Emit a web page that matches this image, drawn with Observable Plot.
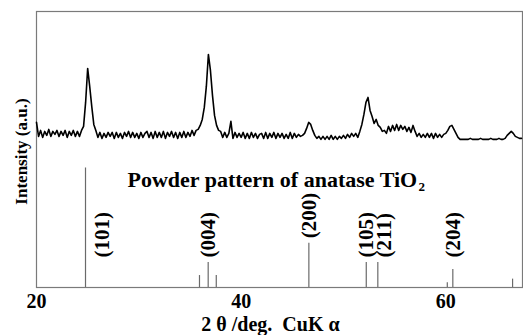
<!DOCTYPE html>
<html>
<head>
<meta charset="utf-8">
<script src="https://cdn.jsdelivr.net/npm/d3@7"></script>
<script src="https://cdn.jsdelivr.net/npm/@observablehq/plot@0.6"></script>
<style>
  html, body { margin: 0; padding: 0; background: #fff; }
  #chart { width: 523px; height: 335px; overflow: hidden; }
</style>
</head>
<body>
<div id="chart"></div>
<script>
// ---- Data ----
// Measured pattern: 2θ scan start / step (deg), intensity (a.u.)
const scanStart = 20.0;
const scanStep = 0.2;
const counts = [
  18, 4, 10, 3, 9, 5, 11, 4, 9, 6,
  10, 4, 9, 5, 10, 3, 9, 5, 10, 4,
  9, 4, 10, 14, 38, 72, 54, 34, 16, 10,
  3, 8, 2, 7, 3, 8, 4, 8, 2, 8,
  3, 7, 2, 8, 4, 9, 3, 8, 3, 7,
  2, 8, 3, 7, 9, 3, 8, 2, 9, 3,
  8, 3, 9, 2, 8, 4, 9, 3, 8, 2,
  8, 3, 9, 3, 8, 4, 10, 5, 10, 11,
  15, 21, 33, 54, 86, 70, 45, 25, 15, 10,
  9, 3, 8, 3, 7, 19, 2, 8, 3, 7,
  3, 8, 2, 7, 2, 8, 3, 7, 2, 6,
  7, 2, 8, 2, 7, 3, 8, 2, 7, 3,
  7, 2, 6, 2, 8, 2, 7, 3, 6, 4,
  5, 7, 12, 18, 16, 10, 5, 2, 4, 1,
  4, 1, 4, 1, 5, 1, 4, 1, 4, 2,
  5, 2, 6, 3, 7, 4, 7, 3, 9, 16,
  26, 38, 43, 30, 24, 17, 21, 15, 13, 9,
  10, 7, 14, 9, 15, 10, 16, 10, 15, 11,
  14, 9, 13, 8, 15, 9, 4, 7, 3, 6,
  3, 7, 3, 7, 2, 7, 3, 6, 3, 6,
  7, 10, 14, 15, 11, 7, 3, 1, 1, 1,
  1, 1, 2, 1, 1, 1, 1, 2, 1, 1,
  1, 1, 2, 1, 1, 1, 2, 1, 1, 2,
  5, 7, 9, 7, 4, 3, 2, 2
];

// Reference powder pattern of anatase TiO2 (stick positions, relative intensity %)
const stickPos = [24.79, 35.93, 36.78, 37.57, 46.62, 52.23, 53.36, 60.15, 60.69, 66.53];
const stickRel = [100, 10, 21, 10, 37, 21, 21, 4, 15, 7];
const stickHkl = ["(101)", "", "(004)", "", "(200)", "(105)", "(211)", "", "(204)", ""];

const xTicks = [20, 40, 60];
const xTitle = "2\u00A0\u03B8\u00A0/deg.\u00A0\u00A0CuK\u00A0\u03B1";
const yTitle = "Intensity (a.u.)";
const heading = "Powder pattern of anatase TiO";
const headingSub = "2";

// ---- Layout (vertical stacking of the two patterns in one frame) ----
const patternBase = 53.3;   // y-units where measured pattern baseline sits
const patternGain = 0.362;  // y-units per count
const stickGain = 0.433;    // y-units per %
const labelFloor = 10.9;    // lowest label start (y-units)
const labelGap = 1.8;

const pattern = counts.map((c, i) => ({x: scanStart + i * scanStep, y: patternBase + c * patternGain}));
const sticks = stickPos.map((p, i) => ({x: p, top: stickRel[i] * stickGain, hkl: stickHkl[i]}));

let prevLabelX = -Infinity;
const labels = [];
for (const s of sticks) {
  if (!s.hkl) continue;
  let nudge = 0, y;
  if (s.top > 30) { nudge = 1.6; y = labelFloor; }
  else {
    y = Math.max(labelFloor, s.top + labelGap);
    if (s.x - prevLabelX < 1.5) nudge = 0.6;
  }
  prevLabelX = s.x;
  labels.push({x: s.x + nudge, y, hkl: s.hkl});
}

const font = "'Liberation Serif', 'Times New Roman', Times, serif";

const chart = Plot.plot({
  width: 523,
  height: 335,
  marginLeft: 36,
  marginRight: 1,
  marginTop: 11,
  marginBottom: 48,
  x: {domain: [20, 67.5]},
  y: {domain: [0, 100], axis: null},
  style: {fontFamily: font, background: "#fff", color: "#000"},
  marks: [
    Plot.frame({stroke: "#7a7a7a", strokeWidth: 1.2}),
    Plot.ruleX(sticks, {x: "x", y1: 0, y2: "top", stroke: "#6a6a6a", strokeWidth: 1.2}),
    Plot.line(pattern, {x: "x", y: "y", stroke: "#000", strokeWidth: 1.6}),
    Plot.text(labels, {x: "x", y: "y", text: "hkl", rotate: -90, textAnchor: "start",
      lineAnchor: "middle", fontSize: 21, fontWeight: "bold", fill: "#000"}),
    Plot.text([heading], {frameAnchor: "top-left", dx: 91, dy: 168, textAnchor: "start",
      lineAnchor: "middle", fontSize: 22, fontWeight: "bold", fill: "#000"}),
    Plot.text([headingSub], {frameAnchor: "top-left", dx: 382, dy: 175, textAnchor: "start",
      lineAnchor: "middle", fontSize: 13, fontWeight: "bold", fill: "#000"}),
    Plot.text([yTitle], {frameAnchor: "left", dx: -15, dy: 2, rotate: -90,
      textAnchor: "middle", lineAnchor: "middle", fontSize: 17, fontWeight: "bold", fill: "#000"}),
    Plot.axisX(xTicks, {tickSize: 0, tickPadding: 6, fontSize: 20, fontWeight: "bold",
      fill: "#000", label: null}),
    Plot.text([xTitle], {frameAnchor: "bottom", dx: -9, dy: 37.5,
      textAnchor: "middle", lineAnchor: "middle", fontSize: 20, fontWeight: "bold", fill: "#000"})
  ]
});

document.getElementById("chart").appendChild(chart);
</script>
</body>
</html>
